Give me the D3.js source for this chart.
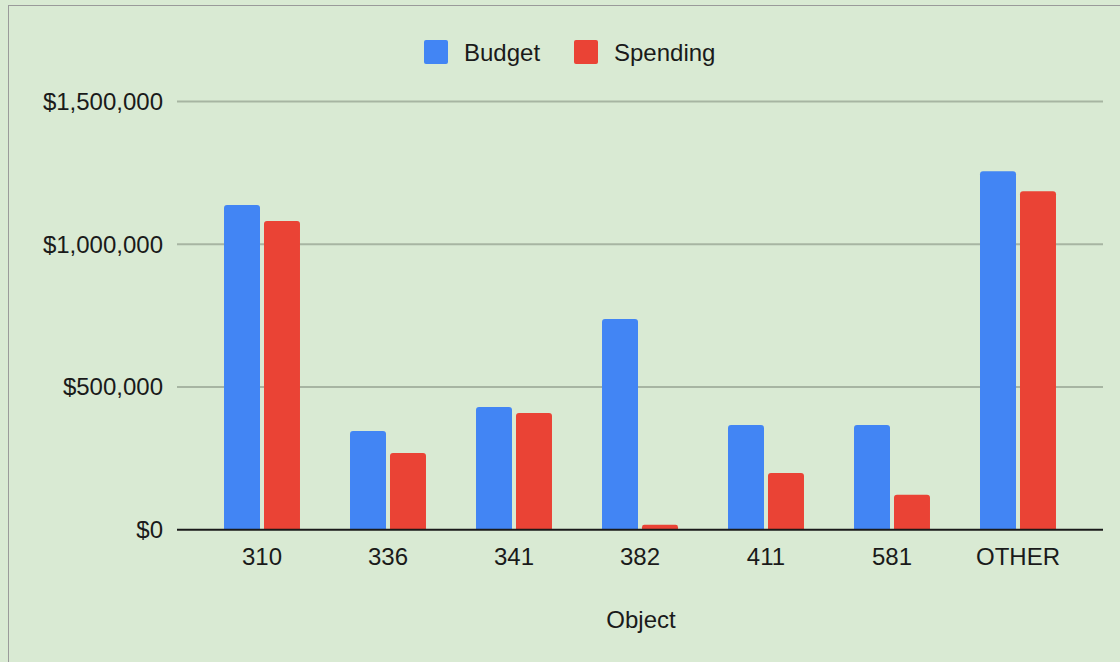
<!DOCTYPE html>
<html>
<head>
<meta charset="utf-8">
<script src="https://cdn.jsdelivr.net/npm/d3@7"></script>
<style>
  body { margin: 0; background: #d9ead3; }
  svg { display: block; font-family: "Liberation Sans", Arial, sans-serif; }
</style>
</head>
<body>
<svg id="chart" width="1120" height="662"></svg>
<script>
const width = 1120;
const height = 662;
const fontSize = 24;

// data
const categories = ["310", "336", "341", "382", "411", "581", "OTHER"];
const seriesNames = ["Budget", "Spending"];
const budget = [1137000, 346000, 430000, 738000, 367000, 367000, 1256000];
const spending = [1081000, 269000, 409000, 17000, 199000, 122000, 1186000];
const yTicks = [0, 500000, 1000000, 1500000];
const colors = ["#4285f4", "#ea4335"];

const rows = categories.map((c, i) => ({ cat: c, values: [budget[i], spending[i]] }));

const svg = d3.select("#chart");

// background + frame
svg.append("rect")
  .attr("width", width)
  .attr("height", height)
  .attr("fill", "#d9ead3");

svg.append("rect")
  .attr("x", 8.5)
  .attr("y", 5.5)
  .attr("width", width + 20)
  .attr("height", height + 20)
  .attr("fill", "none")
  .attr("stroke", "#9a9a9a")
  .attr("stroke-width", 1);

// scales
const plotLeft = 177;
const plotRight = 1103;

const y = d3.scaleLinear().domain([0, 1500000]).range([529.7, 101.5]);

const x0 = d3.scaleBand()
  .domain(categories)
  .range([199, 1081])
  .paddingInner(0.397)
  .paddingOuter(0.1985);

const x1 = d3.scaleBand()
  .domain(seriesNames)
  .range([0, x0.bandwidth()])
  .paddingInner(0.1);

// gridlines
svg.append("g")
  .selectAll("line")
  .data(yTicks.filter((d) => d > 0))
  .join("line")
  .attr("x1", plotLeft)
  .attr("x2", plotRight)
  .attr("y1", (d) => y(d))
  .attr("y2", (d) => y(d))
  .attr("stroke", "#a7b5a2")
  .attr("stroke-width", 2);

// y labels
svg.append("g")
  .selectAll("text")
  .data(yTicks)
  .join("text")
  .attr("x", 163)
  .attr("y", (d) => y(d))
  .attr("dy", "0.35em")
  .attr("text-anchor", "end")
  .attr("font-size", fontSize)
  .attr("fill", "#1a1a1a")
  .text((d) => "$" + d3.format(",")(d));

// rounded-top bar
function barPath(bx, by, bw, bh) {
  const r = Math.min(3, bh / 2, bw / 2);
  return `M${bx},${by + bh}V${by + r}Q${bx},${by} ${bx + r},${by}` +
    `H${bx + bw - r}Q${bx + bw},${by} ${bx + bw},${by + r}V${by + bh}Z`;
}

const groups = svg.append("g")
  .selectAll("g")
  .data(rows)
  .join("g")
  .attr("transform", (d) => `translate(${x0(d.cat)},0)`);

groups.selectAll("path")
  .data((d) => d.values.map((v, i) => ({ key: seriesNames[i], value: v, i })))
  .join("path")
  .attr("fill", (d) => colors[d.i])
  .attr("d", (d) => barPath(x1(d.key), y(d.value), x1.bandwidth(), y(0) - y(d.value)));

// x axis line
svg.append("line")
  .attr("x1", plotLeft)
  .attr("x2", plotRight)
  .attr("y1", y(0))
  .attr("y2", y(0))
  .attr("stroke", "#1a1a1a")
  .attr("stroke-width", 2);

// x labels
svg.append("g")
  .selectAll("text")
  .data(categories)
  .join("text")
  .attr("x", (d) => x0(d) + x0.bandwidth() / 2)
  .attr("y", 565)
  .attr("text-anchor", "middle")
  .attr("font-size", fontSize)
  .attr("fill", "#1a1a1a")
  .text((d) => d);

// axis title
svg.append("text")
  .attr("x", 641)
  .attr("y", 628)
  .attr("text-anchor", "middle")
  .attr("font-size", fontSize)
  .attr("fill", "#1a1a1a")
  .text("Object");

// legend
const legendItems = [
  { name: "Budget", x: 424 },
  { name: "Spending", x: 574 },
];

const legend = svg.append("g")
  .selectAll("g")
  .data(legendItems)
  .join("g")
  .attr("transform", (d) => `translate(${d.x},40)`);

legend.append("rect")
  .attr("width", 24)
  .attr("height", 24)
  .attr("rx", 2)
  .attr("fill", (d, i) => colors[i]);

legend.append("text")
  .attr("x", 40)
  .attr("y", 20.5)
  .attr("font-size", fontSize)
  .attr("fill", "#1a1a1a")
  .text((d) => d.name);
</script>
</body>
</html>
